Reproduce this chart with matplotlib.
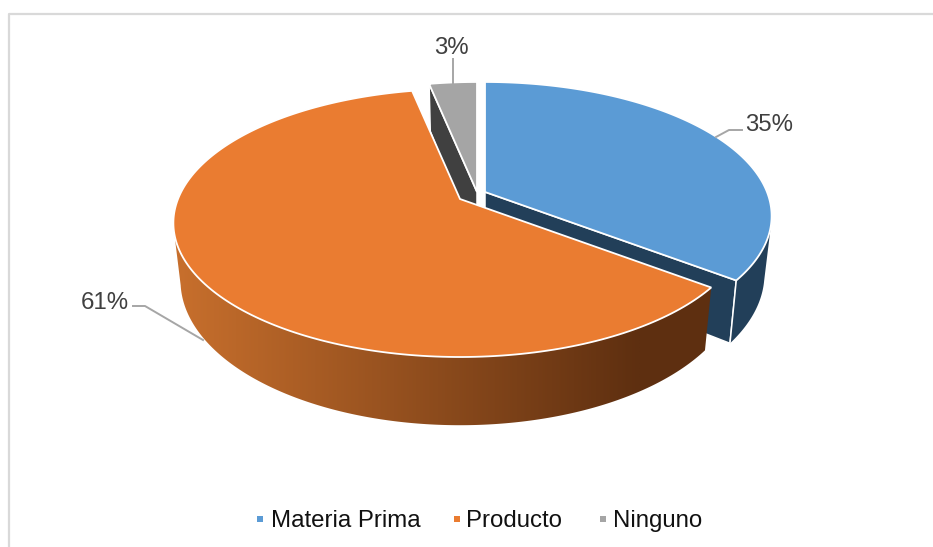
import matplotlib
matplotlib.use('Agg')
import matplotlib.pyplot as plt
import numpy as np
from matplotlib.colors import LinearSegmentedColormap
from matplotlib.patches import Polygon

plt.rcParams['font.family'] = ['Liberation Sans', 'DejaVu Sans']

categories = ['Materia Prima', 'Producto', 'Ninguno']
shares = [35.4, 61.4, 3.2]

top_colors = ['#5B9BD5', '#EA7C31', '#A5A5A5']
side_colors = ['#223F59', '#5E2F10', '#404040']
apexes = [(485, 192), (460, 199), (477, 192)]
label_pos = [(769, 125), (105, 303), (451, 48)]
leaders = [
  ([742, 729, 716], [130, 130, 137]),
  ([133, 145, 203], [306, 306, 340]),
  ([453, 453], [59, 84]),
]
legend_marks = [260, 457, 603]
legend_text = [271, 466, 613]

RADIUS = 282
FLAT = 0.46
PERSP = 0.179
DEPTH = 56
SHRINK = 0.025


def project(theta, apex, depth=0.0):
  # theta in degrees, clockwise from the top of the pie
  rad = np.radians(theta)
  u = np.sin(rad)
  v = np.cos(rad)
  w = 1 + PERSP * v
  x = apex[0] + RADIUS * u / w * (1 - SHRINK * depth)
  y = apex[1] - RADIUS * FLAT * v / w + depth * DEPTH / w
  return x, y


def top_face(ax, start, end, apex, color, zorder=1):
  th = np.linspace(start, end, 200)
  x, y = project(th, apex)
  ax.fill(np.r_[apex[0], x], np.r_[apex[1], y], fc=color, ec='white', lw=1.3, zorder=zorder)


def cut_face(ax, theta, apex, color):
  x0, y0 = project(theta, apex)
  x1, y1 = project(theta, apex, depth=1)
  ax.fill([apex[0], x0, x1, apex[0]], [apex[1], y0, y1, apex[1] + DEPTH], fc=color, ec='white', lw=1.1)


def wall_outline(start, end, apex):
  th = np.linspace(start, end, 240)
  x0, y0 = project(th, apex)
  x1, y1 = project(th, apex, depth=1)
  return np.c_[np.r_[x0, x1[::-1]], np.r_[y0, y1[::-1]]]


fig = plt.figure(figsize=(9.33, 5.47), dpi=100)
ax = fig.add_axes([0, 0, 1, 1])
ax.axis('off')

# chart frame, only left and top are inside the crop
ax.plot([9, 9, 933], [547, 14, 14], color='#D9D9D9', lw=1.6)

ends = np.cumsum(shares) * 3.6
starts = np.r_[0, ends[:-1]]

# gray slice at the back first
cut_face(ax, starts[2], apexes[2], side_colors[2])
top_face(ax, starts[2], 360, apexes[2], top_colors[2])

# blue slice
cut_face(ax, ends[0], apexes[0], side_colors[0])
ax.fill(*wall_outline(103, ends[0], apexes[0]).T, fc=side_colors[0], ec='none')
top_face(ax, starts[0], ends[0], apexes[0], top_colors[0])
x_a, y_a = project(ends[0], apexes[0])
x_b, y_b = project(ends[0], apexes[0], depth=1)
ax.plot([x_a, x_b], [y_a, y_b], color='white', lw=1.1)

# orange slice in front, its wall darkens from left to right
wall_cmap = LinearSegmentedColormap.from_list('wall', ['#C9702D', '#5E2F10'])
grad = ax.imshow(np.linspace(0, 1, 256).reshape(1, -1), cmap=wall_cmap, extent=(170, 640, 440, 200),
                 aspect='auto', zorder=1.5)
dark = ax.fill_between([640, 720], 200, 440, color=side_colors[1], lw=0, zorder=1.5)
clip = Polygon(wall_outline(ends[0], 258, apexes[1]), transform=ax.transData)
grad.set_clip_path(clip)
dark.set_clip_path(clip)
top_face(ax, ends[0], ends[1], apexes[1], top_colors[1], zorder=2)

for i in range(3):
  ax.plot(leaders[i][0], leaders[i][1], color='#A6A6A6', lw=1.4, zorder=1 if i == 1 else 3)
  ax.text(label_pos[i][0], label_pos[i][1], f'{shares[i]:.0f}%', fontsize=17.3, color='#404040',
          ha='center', va='center')

for i in range(3):
  ax.scatter(legend_marks[i], 519, marker='s', s=25, color=top_colors[i], lw=0)
  ax.text(legend_text[i], 527, categories[i], fontsize=17.3, color='#111111', ha='left', va='baseline')

ax.set_xlim(0, 933)
ax.set_ylim(547, 0)

fig.savefig('out.png', dpi=100)
